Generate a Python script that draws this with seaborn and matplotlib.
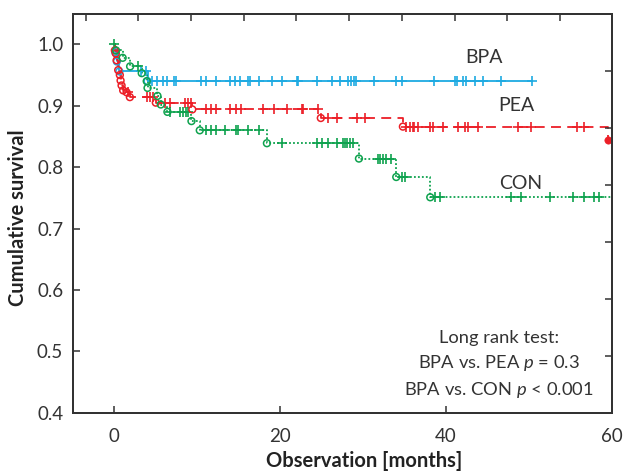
import numpy as np
import pandas as pd
import matplotlib
matplotlib.use("Agg")
import matplotlib.pyplot as plt
import seaborn as sns

# ---- data ----
bpa_event_t = [0.1, 0.3, 0.6, 4.0]
bpa_event_s = [0.987, 0.972, 0.956, 0.940]
bpa_censor_t = [3.2, 3.8, 4.5, 5.2, 5.9, 6.3, 7.2, 7.4, 10.4, 11.1, 12.2, 13.9, 14.5, 15.1,
                16.1, 16.4, 17.4, 19.0, 20.2, 22.0, 22.2, 24.4, 26.2, 27.2, 28.2, 28.6, 28.9,
                29.1, 31.3, 34.0, 34.7, 38.5, 41.1, 41.3, 42.1, 42.4, 43.5, 44.5, 46.6, 50.4]
bpa_end = 50.4

pea_event_t = [0.06, 0.18, 0.27, 0.46, 0.66, 0.75, 0.87, 1.06, 1.47, 1.87, 5.0, 9.4, 24.9, 34.8, 59.6]
pea_event_s = [0.990, 0.985, 0.974, 0.958, 0.950, 0.941, 0.933, 0.925, 0.922, 0.914,
               0.905, 0.894, 0.880, 0.866, 0.845]
pea_censor_t = [1.7, 3.9, 4.3, 4.6, 6.1, 6.7, 8.5, 8.9, 9.2, 11.1, 11.7, 12.3, 13.9, 14.7, 15.3,
                17.9, 19.2, 20.8, 22.6, 22.8, 24.6, 25.8, 26.8, 29.3, 30.2, 35.2, 35.6, 36.0,
                36.2, 36.6, 38.1, 38.4, 39.6, 41.4, 42.3, 42.7, 43.9, 48.7, 50.3, 55.8, 56.6]
pea_end = 59.6

con_event_t = [0.2, 1.0, 1.9, 3.3, 3.9, 4.0, 5.2, 5.6, 6.4, 9.3, 10.3, 18.4, 29.5, 34.0, 38.1]
con_event_s = [0.990, 0.978, 0.964, 0.953, 0.940, 0.929, 0.916, 0.902, 0.890, 0.875, 0.860,
               0.839, 0.814, 0.784, 0.751]
con_censor_t = [0.0, 2.9, 6.7, 7.9, 8.3, 8.6, 8.9, 11.1, 11.7, 12.3, 13.3, 14.7, 14.9, 16.1, 17.5,
                20.2, 24.4, 25.1, 25.8, 26.9, 27.6, 27.8, 28.1, 28.4, 28.8, 31.8, 32.1, 32.4,
                32.8, 33.4, 34.7, 35.0, 38.7, 39.3, 47.9, 49.1, 52.5, 55.3, 56.6, 57.8, 58.5]
con_end = 61.0

groups = ["BPA", "PEA", "CON"]
colors = {"BPA": "#1eaae2", "PEA": "#ec1f27", "CON": "#0ea24e"}
styles = {"BPA": "-", "PEA": (0, (5.5, 3.5)), "CON": (0, (1.0, 1.2))}
xticks = [0, 20, 40, 60]
yticks = [0.4, 0.5, 0.6, 0.7, 0.8, 0.9, 1.0]
ytick_labels = ["0.4", "0.5", "0.6", "0.7", "0.8", "0.9", "1.0"]

data = {
    "BPA": (bpa_event_t, bpa_event_s, bpa_censor_t, bpa_end),
    "PEA": (pea_event_t, pea_event_s, pea_censor_t, pea_end),
    "CON": (con_event_t, con_event_s, con_censor_t, con_end),
}

# ---- styling ----
sns.set_theme(style="white")
plt.rcParams["font.family"] = ["Lato", "DejaVu Sans"]
plt.rcParams["mathtext.fontset"] = "custom"
plt.rcParams["mathtext.it"] = "Lato:italic"
plt.rcParams["mathtext.rm"] = "Lato"

fig = plt.figure(figsize=(6.34, 4.73), dpi=100)
ax = fig.add_axes([0.115, 0.127, 0.85, 0.843])

for g in groups:
    et, es, ct, end = data[g]
    xs = [0.0] + list(et)
    ys = [1.0] + list(es)
    if end > xs[-1]:
        xs.append(end)
        ys.append(ys[-1])
    line_df = pd.DataFrame({"t": xs, "s": ys})
    sns.lineplot(data=line_df, x="t", y="s", ax=ax, color=colors[g], linestyle=styles[g],
                 linewidth=1.3, drawstyle="steps-post", estimator=None, sort=False)
    # censor marks
    et_arr = np.array(et)
    es_arr = np.array([1.0] + list(es))
    cs = es_arr[np.searchsorted(et_arr, np.array(ct), side="right")]
    cdf = pd.DataFrame({"t": ct, "s": cs})
    sns.scatterplot(data=cdf, x="t", y="s", ax=ax, marker="+", s=55, color=colors[g],
                    linewidth=1.2, zorder=4)
    # event marks
    edf = pd.DataFrame({"t": et, "s": es})
    if g == "PEA":
        e_open = edf.iloc[:-1]
        e_fill = edf.iloc[-1:]
        sns.scatterplot(data=e_fill, x="t", y="s", ax=ax, marker="o", s=28,
                        color=colors[g], edgecolor=colors[g], zorder=5)
    else:
        e_open = edf
    ax.scatter(e_open["t"], e_open["s"], marker="o", s=24, facecolors="none",
               edgecolors=colors[g], linewidths=1.1, zorder=5)

ax.set_xlim(-5, 60)
ax.set_ylim(0.4, 1.049)
ax.set_xticks(xticks)
ax.set_xticklabels([str(v) for v in xticks])
ax.set_yticks(yticks)
ax.set_yticklabels(ytick_labels)
ax.tick_params(axis="both", direction="in", length=5, width=1.1, colors="#333333",
               labelsize=13.5, pad=7)
ax.tick_params(axis="x", pad=11)
for sp in ax.spines.values():
    sp.set_color("#333333")
    sp.set_linewidth(1.2)

ax.set_xlabel("Observation [months]", fontsize=14.5, fontweight="bold", color="#222222")
ax.xaxis.set_label_coords(0.54, -0.095)
ax.set_ylabel("Cumulative survival", fontsize=14.5, fontweight="bold", color="#222222")
ax.yaxis.set_label_coords(-0.083, 0.489)

# top and right decorative ticks
axt = ax.twiny()
axt.set_xlim(0, 1)
axt.set_xticks([0.0236 + 0.0978 * k for k in range(10)])
axt.tick_params(axis="x", direction="in", length=5, width=1.1, colors="#333333", labeltop=False)
axr = ax.twinx()
axr.set_ylim(0, 1)
axr.set_yticks([k / 7 for k in range(1, 7)])
axr.tick_params(axis="y", direction="in", length=5, width=1.1, colors="#333333", labelright=False)
for a in (axt, axr):
    for sp in a.spines.values():
        sp.set_color("#333333")
        sp.set_linewidth(1.2)
    a.grid(False)

ax.text(44.6, 0.979, "BPA", fontsize=14, color="#333333", ha="center", va="center")
ax.text(48.5, 0.901, "PEA", fontsize=14, color="#333333", ha="center", va="center")
ax.text(49.0, 0.774, "CON", fontsize=14, color="#333333", ha="center", va="center")
ax.text(46.4, 0.478, "Long rank test:\nBPA vs. PEA $p$ = 0.3\nBPA vs. CON $p$ < 0.001",
        fontsize=13.2, color="#333333", ha="center", va="center", multialignment="center",
        linespacing=1.45)

fig.savefig("out.png", dpi=100)
